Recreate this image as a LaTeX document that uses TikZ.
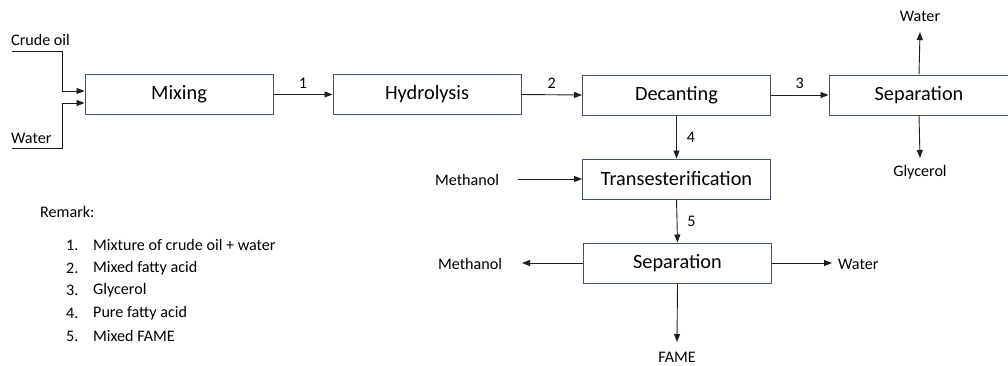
\documentclass[tikz,border=0pt]{standalone}
\usepackage{fontspec}
\setmainfont{Carlito}
\usetikzlibrary{arrows.meta}
\definecolor{boxc}{RGB}{68,84,106}
\definecolor{linec}{RGB}{30,30,30}
\tikzset{
  proc/.style={draw=boxc, line width=1pt, minimum width=188pt, minimum height=40pt, inner sep=0pt, font=\fontsize{20.3}{23}\selectfont, text=black},
  lbl/.style={font=\fontsize{16.1}{19}\selectfont, inner sep=0pt, text=black},
  flow/.style={draw=linec, line width=0.9pt, -{Triangle[length=8pt,width=6pt]}},
}
\begin{document}
\begin{tikzpicture}[x=1pt,y=-1pt]
\useasboundingbox (0,0) rectangle (1008,365);
\clip (0,0) rectangle (1008,365);
% process boxes
\node[proc] (mix) at (179,94.5) {Mixing};
\node[proc] (hyd) at (427,94.5) {Hydrolysis};
\node[proc] (dec) at (676.5,95) {Decanting};
\node[proc, minimum width=180pt] (sep1) at (919,95) {Separation};
\node[proc] (tra) at (676.5,179) {Transesterification};
\node[proc] (sep2) at (677.5,263) {Separation};
% labels
\node[lbl, anchor=west] (crude) at (11,40) {Crude oil};
\node[lbl, anchor=west] (water1) at (11,138) {Water};
\node[lbl] (water2) at (920,16) {Water};
\node[lbl] (gly) at (920,172) {Glycerol};
\node[lbl] (meth1) at (467,180) {Methanol};
\node[lbl] (meth2) at (470,264) {Methanol};
\node[lbl, anchor=west] (water3) at (838,264) {Water};
\node[lbl] (fame) at (677,357) {FAME};
% coordinates
\coordinate (c1) at (12,51);
\coordinate (c2) at (12,148);
\coordinate (m1) at (518,179);
\coordinate (m2) at (522,263);
\coordinate (w3) at (832,263);
% feeds to mixing
\draw[flow] (c1) -| (62,91) -- (mix.west |- 0,91);
\draw[flow] (c2) -| (62,103) -- (mix.west |- 0,103);
% main line
\draw[flow] (mix.east) -- node[lbl, above=6pt] (n1) {1} (hyd.west);
\draw[flow] (hyd.east) -- node[lbl, above=6pt] (n2) {2} (dec.west);
\draw[flow] (dec.east) -- node[lbl, above=6pt] (n3) {3} (sep1.west);
\draw[flow] (sep1.north) -- (920,32);
\draw[flow] (sep1.south) -- (920,158);
\draw[flow] (dec.south) -- node[lbl, right=10pt] (n4) {4} (tra.north);
\draw[flow] (m1) -- (tra.west);
\draw[flow] (tra.south) -- node[lbl, right=10pt] (n5) {5} (sep2.north);
\draw[flow] (sep2.west) -- (m2);
\draw[flow] (sep2.east) -- (w3);
\draw[flow] (sep2.south) -- (677,342);
% remark
\node[lbl, anchor=west] (rem) at (40,212) {Remark:};
\foreach \i/\t/\y in {1/Mixture of crude oil + water/245, 2/Mixed fatty acid/268, 3/Glycerol/290, 4/Pure fatty acid/313, 5/Mixed FAME/336}{
  \node[lbl, anchor=west] (rn\i) at (66,\y) {\i.};
  \node[lbl, anchor=west] (rt\i) at (93,\y) {\t};
}
\end{tikzpicture}
\end{document}
